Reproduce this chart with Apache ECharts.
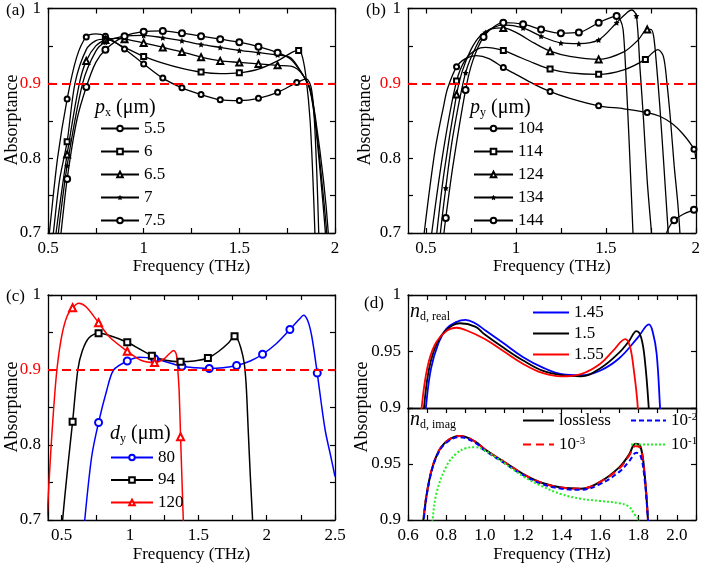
<!DOCTYPE html>
<html><head><meta charset="utf-8">
<script src="https://cdn.jsdelivr.net/npm/echarts@6/dist/echarts.min.js"></script>
<style>html,body{margin:0;padding:0;background:#fff}#c{width:703px;height:566px}</style>
</head><body><div id="c"></div>
<script>
// ---------------- ticks / labels ----------------
const abX_ticks = [0.5,0.75,1,1.25,1.5,1.75,2];
const abX_labels = [0.5,1,1.5,2];
const cX_ticks = [0.5,0.75,1,1.25,1.5,1.75,2,2.25,2.5];
const cX_labels = [0.5,1,1.5,2,2.5];
const dX_ticks = [0.6,0.7,0.8,0.9,1.0,1.1,1.2,1.3,1.4,1.5,1.6,1.7,1.8,1.9,2.0,2.1];
const dX_labels = [0.6,0.8,1.0,1.2,1.4,1.6,1.8,2.0];
const abcY_ticks = [0.7,0.75,0.8,0.85,0.9,0.95,1];
const abcY_labels = [0.7,0.8,0.9,1];
const dY_ticks = [0.9,0.95,1];
const dYup_labels = [0.9,0.95,1];
const dYlow_labels = [0.9,0.95];

// ---------------- (a) p_x ----------------
const a_names = ['5.5','6','6.5','7','7.5'];
const a_px55 = [[0.49,0.66],[0.507,0.70],[0.55,0.80],[0.6,0.879],[0.65,0.935],[0.7,0.962],[0.75,0.966],[0.8,0.963],[0.9,0.946],[1.0,0.926],[1.1,0.907],[1.2,0.894],[1.3,0.885],[1.4,0.878],[1.5,0.877],[1.6,0.880],[1.7,0.888],[1.8,0.901],[1.85,0.906],[1.875,0.895],[1.89,0.86],[1.905,0.78],[1.915,0.70],[1.92,0.66]];
const a_px6 = [[0.51,0.66],[0.528,0.70],[0.56,0.77],[0.6,0.822],[0.641,0.90],[0.7,0.945],[0.75,0.957],[0.8,0.959],[0.9,0.948],[1.0,0.936],[1.1,0.927],[1.2,0.920],[1.3,0.915],[1.4,0.913],[1.5,0.914],[1.6,0.919],[1.7,0.930],[1.78,0.942],[1.81,0.944],[1.83,0.935],[1.85,0.905],[1.87,0.85],[1.885,0.77],[1.895,0.70],[1.9,0.66]];
const a_px65 = [[0.525,0.66],[0.542,0.70],[0.6,0.805],[0.664,0.90],[0.7,0.93],[0.75,0.95],[0.8,0.958],[0.85,0.960],[0.9,0.959],[1.0,0.954],[1.1,0.948],[1.2,0.942],[1.3,0.935],[1.4,0.930],[1.5,0.928],[1.6,0.926],[1.7,0.924],[1.77,0.923],[1.83,0.912],[1.87,0.89],[1.9,0.84],[1.93,0.76],[1.95,0.70],[1.96,0.66]];
const a_px7 = [[0.537,0.66],[0.554,0.70],[0.6,0.79],[0.681,0.90],[0.75,0.943],[0.8,0.955],[0.9,0.963],[1.0,0.964],[1.1,0.961],[1.2,0.957],[1.3,0.952],[1.4,0.948],[1.5,0.944],[1.6,0.941],[1.7,0.938],[1.77,0.934],[1.83,0.912],[1.87,0.892],[1.9,0.845],[1.935,0.76],[1.957,0.70],[1.965,0.66]];
const a_px75 = [[0.55,0.66],[0.568,0.70],[0.6,0.772],[0.65,0.85],[0.7,0.895],[0.75,0.928],[0.8,0.945],[0.9,0.963],[1.0,0.969],[1.1,0.970],[1.2,0.967],[1.3,0.963],[1.4,0.959],[1.5,0.955],[1.6,0.949],[1.7,0.941],[1.77,0.932],[1.83,0.912],[1.87,0.893],[1.9,0.85],[1.94,0.77],[1.965,0.70],[1.97,0.66]];

// ---------------- (b) p_y ----------------
const b_names = ['104','114','124','134','144'];
const b_py104 = [[0.47,0.65],[0.49,0.70],[0.55,0.81],[0.6,0.872],[0.62,0.893],[0.67,0.922],[0.72,0.933],[0.78,0.937],[0.85,0.933],[0.93,0.921],[1.0,0.912],[1.1,0.899],[1.19,0.889],[1.3,0.880],[1.46,0.870],[1.6,0.866],[1.73,0.861],[1.8,0.856],[1.87,0.846],[1.93,0.832],[1.99,0.812],[2.0,0.80]];
const b_py114 = [[0.51,0.65],[0.532,0.70],[0.6,0.815],[0.67,0.903],[0.72,0.932],[0.78,0.945],[0.83,0.948],[0.93,0.944],[1.0,0.937],[1.1,0.927],[1.19,0.919],[1.3,0.914],[1.46,0.912],[1.6,0.918],[1.72,0.932],[1.76,0.941],[1.79,0.945],[1.82,0.936],[1.84,0.90],[1.86,0.85],[1.88,0.79],[1.9,0.74],[1.912,0.70],[1.92,0.66]];
const b_py124 = [[0.54,0.65],[0.56,0.70],[0.6,0.78],[0.67,0.885],[0.7,0.915],[0.75,0.945],[0.8,0.963],[0.87,0.973],[0.93,0.974],[1.0,0.968],[1.1,0.954],[1.19,0.943],[1.3,0.936],[1.46,0.932],[1.6,0.942],[1.68,0.958],[1.73,0.972],[1.75,0.972],[1.765,0.964],[1.78,0.93],[1.80,0.87],[1.82,0.80],[1.847,0.70],[1.86,0.65]];
const b_py134 = [[0.56,0.65],[0.58,0.70],[0.61,0.76],[0.65,0.83],[0.72,0.914],[0.78,0.95],[0.83,0.968],[0.93,0.978],[1.04,0.974],[1.14,0.963],[1.25,0.954],[1.35,0.953],[1.46,0.958],[1.56,0.981],[1.62,0.995],[1.645,0.998],[1.67,0.99],[1.69,0.92],[1.71,0.85],[1.73,0.77],[1.754,0.70],[1.77,0.65]];
const b_py144 = [[0.58,0.65],[0.60,0.70],[0.61,0.72],[0.65,0.79],[0.72,0.891],[0.76,0.93],[0.82,0.962],[0.88,0.976],[0.93,0.981],[1.04,0.979],[1.14,0.972],[1.25,0.967],[1.35,0.968],[1.46,0.981],[1.53,0.988],[1.56,0.990],[1.58,0.985],[1.596,0.972],[1.61,0.92],[1.63,0.82],[1.651,0.70],[1.67,0.60],[1.80,0.60],[1.838,0.70],[1.86,0.711],[1.88,0.717],[1.93,0.725],[1.99,0.731],[2.0,0.732]];

// ---------------- (c) d_y ----------------
const c_names = ['80','94','120'];
const c_dy80 = [[0.65,0.65],[0.669,0.70],[0.72,0.785],[0.77,0.830],[0.83,0.873],[0.88,0.90],[0.98,0.912],[1.07,0.917],[1.18,0.915],[1.28,0.910],[1.38,0.905],[1.48,0.903],[1.58,0.902],[1.68,0.903],[1.78,0.906],[1.88,0.912],[1.97,0.921],[2.07,0.935],[2.17,0.954],[2.24,0.968],[2.27,0.973],[2.30,0.966],[2.33,0.945],[2.37,0.896],[2.40,0.855],[2.43,0.818],[2.47,0.784],[2.5,0.758]];
const c_dy94 = [[0.49,0.65],[0.507,0.70],[0.55,0.78],[0.58,0.831],[0.618,0.90],[0.65,0.925],[0.7,0.943],[0.77,0.949],[0.85,0.946],[0.98,0.937],[1.07,0.928],[1.16,0.919],[1.26,0.913],[1.37,0.911],[1.47,0.912],[1.57,0.916],[1.65,0.925],[1.72,0.936],[1.765,0.945],[1.785,0.942],[1.81,0.93],[1.835,0.91],[1.85,0.88],[1.865,0.82],[1.88,0.76],[1.897,0.70],[1.91,0.65]];
const c_dy120 = [[0.375,0.65],[0.392,0.70],[0.42,0.79],[0.44,0.845],[0.465,0.90],[0.5,0.945],[0.54,0.972],[0.58,0.983],[0.625,0.989],[0.68,0.984],[0.77,0.963],[0.85,0.944],[0.98,0.925],[1.08,0.913],[1.18,0.910],[1.25,0.915],[1.29,0.922],[1.32,0.926],[1.34,0.92],[1.35,0.90],[1.36,0.87],[1.37,0.811],[1.38,0.755],[1.39,0.70],[1.40,0.65]];

// ---------------- (d) n_d real (upper) ----------------
const d_real_names = ['1.45','1.5','1.55'];
const d_n145 = [[0.686,0.88],[0.693,0.90],[0.72,0.935],[0.76,0.958],[0.8,0.970],[0.85,0.976],[0.9,0.978],[0.95,0.975],[1.0,0.969],[1.1,0.957],[1.2,0.945],[1.3,0.936],[1.4,0.930],[1.5,0.929],[1.6,0.933],[1.7,0.944],[1.8,0.963],[1.855,0.974],[1.875,0.967],[1.895,0.948],[1.913,0.90],[1.92,0.88]];
const d_n150 = [[0.676,0.88],[0.683,0.90],[0.71,0.935],[0.75,0.957],[0.8,0.969],[0.87,0.975],[0.95,0.972],[1.0,0.965],[1.1,0.953],[1.2,0.942],[1.3,0.933],[1.4,0.929],[1.5,0.928],[1.6,0.935],[1.7,0.949],[1.75,0.959],[1.79,0.968],[1.815,0.962],[1.835,0.94],[1.854,0.90],[1.86,0.88]];
const d_n155 = [[0.664,0.88],[0.671,0.90],[0.70,0.935],[0.74,0.956],[0.8,0.968],[0.853,0.971],[0.9,0.969],[1.0,0.961],[1.1,0.950],[1.2,0.939],[1.3,0.931],[1.4,0.928],[1.5,0.930],[1.6,0.939],[1.67,0.951],[1.732,0.961],[1.755,0.955],[1.775,0.935],[1.797,0.90],[1.80,0.88]];

// ---------------- (d) n_d imag (lower) ----------------
const d_imag_names = ['lossless','10^-2','10^-3','10^-1'];
const d_lossless = [[0.674,0.88],[0.68,0.90],[0.71,0.935],[0.75,0.958],[0.8,0.970],[0.87,0.975],[0.95,0.970],[1.0,0.963],[1.1,0.952],[1.2,0.941],[1.3,0.933],[1.4,0.929],[1.5,0.928],[1.6,0.934],[1.7,0.947],[1.75,0.958],[1.785,0.968],[1.81,0.966],[1.83,0.945],[1.85,0.90],[1.855,0.88]];
const d_im2 = [[0.676,0.88],[0.682,0.90],[0.71,0.934],[0.75,0.957],[0.8,0.969],[0.87,0.974],[0.95,0.969],[1.0,0.962],[1.1,0.951],[1.2,0.940],[1.3,0.932],[1.4,0.928],[1.5,0.927],[1.6,0.932],[1.7,0.943],[1.75,0.952],[1.79,0.960],[1.81,0.958],[1.83,0.94],[1.85,0.90],[1.855,0.88]];
const d_im3 = [[0.674,0.88],[0.68,0.90],[0.71,0.935],[0.75,0.958],[0.8,0.970],[0.87,0.975],[0.95,0.970],[1.0,0.963],[1.1,0.952],[1.2,0.941],[1.3,0.933],[1.4,0.929],[1.5,0.928],[1.6,0.934],[1.7,0.946],[1.75,0.957],[1.785,0.966],[1.81,0.964],[1.83,0.944],[1.85,0.90],[1.855,0.88]];
const d_im1 = [[0.722,0.88],[0.728,0.90],[0.75,0.925],[0.8,0.948],[0.85,0.959],[0.9,0.964],[0.95,0.965],[1.0,0.962],[1.1,0.951],[1.2,0.939],[1.3,0.930],[1.4,0.923],[1.5,0.919],[1.6,0.917],[1.7,0.915],[1.75,0.912],[1.78,0.905],[1.80,0.90],[1.805,0.88]];

// ---------------- styling / building ----------------
const FF = 'Liberation Serif';
const STAR = 'path://M0,-10 L2.9,-4 9.5,-3.1 4.8,1.5 5.9,8.1 0,5 -5.9,8.1 -4.8,1.5 -9.5,-3.1 -2.9,-4 Z';
const aMarks = [0.6,0.7,0.8,0.9,1.0,1.1,1.2,1.3,1.4,1.5,1.6,1.7,1.8];

function lineSeries(name, data, g, o) {
  const marks = o.markAt || [];
  const d = data.map(p => marks.some(m => Math.abs(m - p[0]) < 1e-9) ? p : {value: p, symbol: 'none'});
  return {
    type: 'line', name, xAxisIndex: 2*g, yAxisIndex: 2*g, data: d,
    smooth: o.smooth || 0.3,
    symbol: o.symbol || 'none', symbolSize: o.size || 6, showSymbol: true, showAllSymbol: true,
    clip: true, z: o.z || 2,
    lineStyle: {color: o.color, width: o.width || 1.3, type: o.type || 'solid'},
    itemStyle: {color: o.color, borderWidth: 1},
    emphasis: {disabled: true}, silent: true,
    markLine: o.ref ? {silent: true, symbol: ['none','none'], label: {show: false},
      lineStyle: {color: '#ff0000', type: [9,5], width: 1.8}, data: [{yAxis: 0.9}]} : undefined
  };
}

function ax(g, min, max, pos, ticks, labels, fmt, showLabel, showTick, extra) {
  return Object.assign({
    type: 'value', gridIndex: g, min, max, position: pos,
    axisLine: {show: true, onZero: false, lineStyle: {color: '#000', width: 1.3}},
    axisTick: {show: showTick, inside: true, length: 5, customValues: ticks, lineStyle: {color: '#000', width: 1.2}},
    axisLabel: {show: showLabel, customValues: labels, formatter: fmt, color: '#000', fontFamily: FF, fontSize: 17, margin: 7,
      rich: {r: {color: '#ff0000', fontFamily: FF, fontSize: 17}}},
    splitLine: {show: false}, minorTick: {show: false}
  }, extra || {});
}
const yFmt = v => Math.abs(v - 0.9) < 1e-9 ? '{r|0.9}' : String(v);
const xName = nameGap => ({name: 'Frequency (THz)', nameLocation: 'middle', nameGap,
  nameTextStyle: {fontFamily: FF, fontSize: 17, color: '#000'}});

const grids = [
  {left: 48, top: 7, width: 287, height: 226},
  {left: 408, top: 7, width: 288, height: 226},
  {left: 48, top: 295, width: 287, height: 225},
  {left: 408, top: 295, width: 288, height: 113},
  {left: 408, top: 408, width: 288, height: 112}
];

const xAxis = [
  ax(0, 0.5, 2, 'bottom', abX_ticks, abX_labels, v => String(v), true, true, xName(25)),
  ax(0, 0.5, 2, 'top', abX_ticks, [], null, false, true),
  ax(1, 0.4, 2, 'bottom', abX_ticks, abX_labels, v => String(v), true, true, xName(25)),
  ax(1, 0.4, 2, 'top', abX_ticks, [], null, false, true),
  ax(2, 0.4, 2.5, 'bottom', cX_ticks, cX_labels, v => String(v), true, true, xName(26)),
  ax(2, 0.4, 2.5, 'top', cX_ticks, [], null, false, true),
  ax(3, 0.6, 2.1, 'bottom', dX_ticks, [], null, false, false),
  ax(3, 0.6, 2.1, 'top', dX_ticks, [], null, false, true),
  ax(4, 0.6, 2.1, 'bottom', dX_ticks, dX_labels, v => v.toFixed(1), true, true, xName(26)),
  ax(4, 0.6, 2.1, 'top', dX_ticks, [], null, false, true)
];
const yAxis = [
  ax(0, 0.7, 1, 'left', abcY_ticks, abcY_labels, yFmt, true, true),
  ax(0, 0.7, 1, 'right', abcY_ticks, [], null, false, true),
  ax(1, 0.7, 1, 'left', abcY_ticks, abcY_labels, yFmt, true, true),
  ax(1, 0.7, 1, 'right', abcY_ticks, [], null, false, true),
  ax(2, 0.7, 1, 'left', abcY_ticks, abcY_labels, yFmt, true, true),
  ax(2, 0.7, 1, 'right', abcY_ticks, [], null, false, true),
  ax(3, 0.9, 1, 'left', dY_ticks, dYup_labels, v => String(v), true, true),
  ax(3, 0.9, 1, 'right', dY_ticks, [], null, false, true),
  ax(4, 0.9, 1, 'left', dY_ticks, dYlow_labels, v => String(v), true, true),
  ax(4, 0.9, 1, 'right', dY_ticks, [], null, false, true)
];

const K = '#000', B = '#0000ff', R = '#ff0000', G = '#22ee22';
const series = [
  lineSeries(a_names[0], a_px55, 0, {color: K, symbol: 'emptyCircle', size: 5, markAt: aMarks, ref: true}),
  lineSeries(a_names[1], a_px6, 0, {color: K, symbol: 'emptyRect', size: 5, markAt: [0.6,0.8,1.0,1.3,1.5,1.81]}),
  lineSeries(a_names[2], a_px65, 0, {color: K, symbol: 'emptyTriangle', size: 6, markAt: aMarks}),
  lineSeries(a_names[3], a_px7, 0, {color: K, symbol: STAR, size: 6, markAt: aMarks}),
  lineSeries(a_names[4], a_px75, 0, {color: K, symbol: 'emptyCircle', size: 6, markAt: aMarks}),

  lineSeries(b_names[0], b_py104, 1, {color: K, symbol: 'emptyCircle', size: 5, markAt: [0.67,0.93,1.19,1.46,1.73,1.99], ref: true}),
  lineSeries(b_names[1], b_py114, 1, {color: K, symbol: 'emptyRect', size: 5, markAt: [0.67,0.93,1.19,1.46,1.72]}),
  lineSeries(b_names[2], b_py124, 1, {color: K, symbol: 'emptyTriangle', size: 6, markAt: [0.67,0.93,1.19,1.46,1.73]}),
  lineSeries(b_names[3], b_py134, 1, {color: K, symbol: STAR, size: 6, markAt: [0.61,0.72,0.83,0.93,1.04,1.14,1.25,1.35,1.46,1.56,1.67]}),
  lineSeries(b_names[4], b_py144, 1, {color: K, symbol: 'emptyCircle', size: 6, markAt: [0.61,0.72,0.82,0.93,1.04,1.14,1.25,1.35,1.46,1.56,1.88,1.99]}),

  lineSeries(c_names[0], c_dy80, 2, {color: B, symbol: 'emptyCircle', size: 7, width: 1.5, markAt: [0.77,0.98,1.18,1.38,1.58,1.78,1.97,2.17,2.37], ref: true}),
  lineSeries(c_names[1], c_dy94, 2, {color: K, symbol: 'emptyRect', size: 6, width: 1.5, markAt: [0.58,0.77,0.98,1.16,1.37,1.57,1.765]}),
  lineSeries(c_names[2], c_dy120, 2, {color: R, symbol: 'emptyTriangle', size: 7, width: 1.5, markAt: [0.58,0.77,0.98,1.18,1.37]}),

  lineSeries(d_real_names[0], d_n145, 3, {color: B, width: 1.8, smooth: 0.4}),
  lineSeries(d_real_names[1], d_n150, 3, {color: K, width: 1.8, smooth: 0.4}),
  lineSeries(d_real_names[2], d_n155, 3, {color: R, width: 1.8, smooth: 0.4}),

  lineSeries(d_imag_names[0], d_lossless, 4, {color: K, width: 2, z: 2, smooth: 0.4}),
  lineSeries(d_imag_names[2], d_im3, 4, {color: R, width: 2, type: [8,5], z: 3, smooth: 0.4}),
  lineSeries(d_imag_names[1], d_im2, 4, {color: B, width: 2, type: [5,3], z: 4, smooth: 0.4}),
  lineSeries(d_imag_names[3], d_im1, 4, {color: G, width: 2, type: [2,2], z: 5, smooth: 0.4})
];

const legBase = (names, left, top, w, gap, extra) => Object.assign({
  data: names, orient: 'vertical', left, top, padding: 0, itemWidth: w, itemHeight: 7, itemGap: gap,
  selectedMode: false,
  textStyle: {fontFamily: FF, fontSize: 17, color: '#000', lineHeight: 16,
    rich: {b: {fontFamily: FF, fontSize: 17, color: '#000'}, s: {fontFamily: FF, fontSize: 11, color: '#000', padding: [0,0,6,0]}}},
  formatter: n => n.startsWith('10^') ? '{b|10}{s|' + n.slice(3) + '}' : n
}, extra || {});

const legend = [
  legBase(a_names, 100, 120, 38, 6),
  legBase(b_names, 473, 120, 39, 6),
  legBase(c_names, 110, 449, 42, 5.5),
  legBase(d_real_names, 532, 304, 36, 4, {itemStyle: {opacity: 0}}),
  legBase(['lossless','10^-3'], 522, 412, 31, 7, {itemStyle: {opacity: 0}}),
  legBase(['10^-2','10^-1'], 630, 412, 35, 7, {itemStyle: {opacity: 0}})
];

const txt = (x, y, text, size, extra) => Object.assign({type: 'text', x, y, silent: true,
  style: {text, fill: '#000', fontFamily: FF, fontSize: size}}, extra || {});
const ytitle = (x, y) => ({type: 'text', x, y, rotation: Math.PI/2, silent: true,
  style: {text: 'Absorptance', fill: '#000', fontFamily: FF, fontSize: 18, align: 'center', verticalAlign: 'middle'}});
const richSub = {
  i: {fontFamily: FF, fontSize: 20, fontStyle: 'italic', fill: '#000'},
  s: {fontFamily: FF, fontSize: 12, fill: '#000', padding: [10,0,0,0]},
  n: {fontFamily: FF, fontSize: 20, fill: '#000'}
};
const richTxt = (x, y, text) => ({type: 'text', x, y, silent: true,
  style: {text, rich: richSub, fill: '#000', fontFamily: FF, fontSize: 20}});

const graphic = [
  txt(6, 2, '(a)', 17), txt(366, 2, '(b)', 17), txt(6, 288, '(c)', 17), txt(364, 295, '(d)', 17),
  ytitle(12, 120), ytitle(365, 120), ytitle(12, 407), ytitle(362, 407),
  richTxt(95, 97, '{i|p}{s|x}{n| (μm)}'),
  richTxt(470, 97, '{i|p}{s|y}{n| (μm)}'),
  richTxt(110, 423, '{i|d}{s|y}{n| (μm)}'),
  richTxt(410, 301, '{i|n}{s|d, real}'),
  richTxt(410, 409, '{i|n}{s|d, imag}')
];

const chart = echarts.init(document.getElementById('c'), null, {renderer: 'canvas', width: 703, height: 566});
chart.setOption({
  animation: false, backgroundColor: '#fff',
  grid: grids, xAxis, yAxis, series, legend, graphic
});
</script>
</body></html>
